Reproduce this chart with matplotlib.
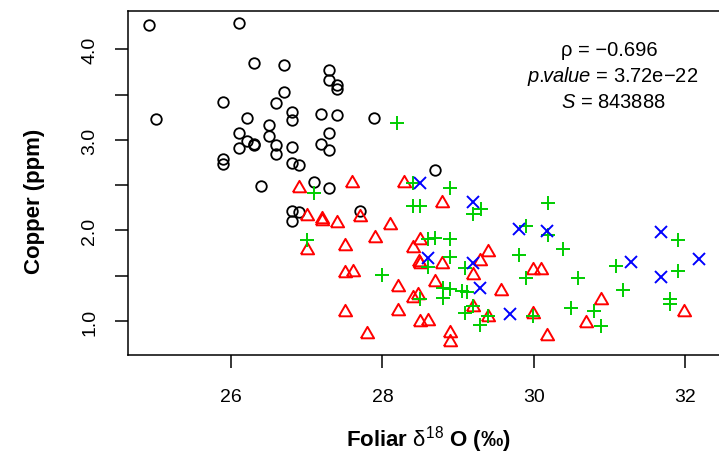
import numpy as np
import matplotlib
matplotlib.use('Agg')
import matplotlib.pyplot as plt

plt.rcParams['font.family'] = ['Liberation Sans', 'DejaVu Sans']
plt.rcParams['mathtext.fontset'] = 'custom'
plt.rcParams['mathtext.rm'] = 'Liberation Sans'
plt.rcParams['mathtext.it'] = 'Liberation Sans:italic'
plt.rcParams['mathtext.bf'] = 'Liberation Sans:bold'

# groupe 1 : cercles noirs
circ_x = [24.91, 26.11, 26.30, 26.70, 26.70, 25.90, 26.60, 25.01, 26.21, 26.80,
          26.80, 27.19, 26.50, 26.11, 26.50, 26.21, 26.30, 26.31, 26.11, 26.60,
          26.60, 26.80, 27.19, 25.90, 25.90, 26.80, 26.90, 27.10, 26.40, 27.30,
          27.30, 27.40, 27.40, 27.40, 27.30, 27.30, 27.89, 27.30, 26.80, 26.90,
          26.80, 27.70, 28.69]
circ_y = [4.27, 4.29, 3.85, 3.83, 3.53, 3.42, 3.41, 3.23, 3.24, 3.31,
          3.22, 3.29, 3.17, 3.08, 3.04, 2.99, 2.95, 2.94, 2.91, 2.94,
          2.85, 2.92, 2.96, 2.79, 2.73, 2.74, 2.72, 2.54, 2.49, 3.77,
          3.66, 3.61, 3.56, 3.28, 3.08, 2.89, 3.24, 2.47, 2.21, 2.20,
          2.10, 2.22, 2.67]

# groupe 2 : triangles rouges
tri_x = [26.90, 27.60, 28.29, 27.00, 27.20, 27.20, 27.40, 27.70, 28.10, 27.90,
         27.51, 27.00, 28.40, 27.51, 27.61, 28.20, 28.40, 28.47, 27.50, 28.20,
         27.80, 28.79, 28.50, 28.50, 28.79, 29.19, 29.29, 29.39, 28.69, 29.19,
         29.40, 28.50, 28.60, 28.89, 28.89, 29.57, 29.99, 30.09, 29.99, 30.18,
         30.69, 30.89, 31.98, 28.48]
tri_y = [2.47, 2.52, 2.53, 2.16, 2.13, 2.11, 2.08, 2.15, 2.06, 1.92,
         1.83, 1.78, 1.81, 1.53, 1.54, 1.38, 1.25, 1.29, 1.10, 1.11,
         0.86, 2.30, 1.89, 1.63, 1.63, 1.51, 1.66, 1.76, 1.43, 1.15,
         1.04, 0.99, 1.00, 0.87, 0.77, 1.33, 1.56, 1.56, 1.08, 0.83,
         0.98, 1.23, 1.10, 1.65]

# groupe 3 : croix vertes
plus_x = [28.19, 27.10, 27.00, 28.00, 28.40, 28.89, 28.40, 28.50, 29.19, 29.30,
          28.60, 28.69, 28.89, 28.89, 28.60, 29.09, 28.80, 28.89, 28.80, 29.05,
          29.12, 28.50, 29.09, 29.19, 29.29, 29.39, 30.19, 29.90, 30.19, 30.39,
          29.80, 29.90, 30.59, 31.09, 31.18, 31.90, 31.90, 31.80, 31.80, 30.49,
          30.79, 30.89, 29.99]
plus_y = [3.19, 2.41, 1.89, 1.51, 2.52, 2.47, 2.27, 2.27, 2.18, 2.24,
          1.91, 1.92, 1.91, 1.71, 1.60, 1.58, 1.36, 1.35, 1.25, 1.33,
          1.32, 1.24, 1.09, 1.17, 0.96, 1.06, 2.30, 2.05, 1.95, 1.80,
          1.73, 1.48, 1.47, 1.61, 1.34, 1.90, 1.55, 1.24, 1.19, 1.14,
          1.11, 0.94, 1.05]

# groupe 4 : x bleus
cross_x = [28.50, 29.19, 28.60, 29.19, 29.29, 29.69, 29.80, 30.18, 31.28, 31.68,
           31.68, 32.18]
cross_y = [2.53, 2.31, 1.70, 1.64, 1.36, 1.08, 2.02, 1.99, 1.65, 1.98,
           1.49, 1.68]

xticks = [26, 28, 30, 32]
yticks = [1.0, 1.5, 2.0, 2.5, 3.0, 3.5, 4.0]
ylabels = ['1.0', '', '2.0', '', '3.0', '', '4.0']

tri = [(-1, -0.577), (1, -0.577), (0, 1.155), (-1, -0.577)]

fig = plt.figure(figsize=(7.19, 4.56), dpi=100)
ax = fig.add_axes([128/719, 100/456, 594/719, 344/456])

ax.plot(circ_x, circ_y, ls='none', marker='o', ms=7.6, mfc='none', mec='black', mew=1.3)
ax.plot(tri_x, tri_y, ls='none', marker=tri, ms=11, mfc='none', mec='red', mew=1.4)
ax.plot(plus_x, plus_y, ls='none', marker='+', ms=10, mec='#00CD00', mew=1.4)
ax.plot(cross_x, cross_y, ls='none', marker='x', ms=8, mec='blue', mew=1.4)

ax.set_xlim(24.639, 32.486)
ax.set_ylim(0.624, 4.425)
ax.set_xticks(xticks)
ax.set_xticklabels([str(t) for t in xticks])
ax.set_yticks(yticks)
ax.set_yticklabels(ylabels, rotation=90, va='center')
ax.spines['right'].set_visible(False)
for s in ['left', 'top', 'bottom']:
    ax.spines[s].set_linewidth(1.1)
ax.tick_params(direction='out', length=9.5, width=1.1, labelsize=14)
ax.tick_params(axis='x', pad=14)
ax.tick_params(axis='y', pad=12)

fig.text(35/719, 1 - 201/456, 'Copper (ppm)', rotation=90, ha='center', va='center',
         fontsize=16, fontweight='bold')
fig.text(428/719, 1 - 440/456, r'Foliar $\mathrm{\delta}^{18}$ O (‰)', ha='center', va='center',
         fontsize=16, fontweight='bold')

fig.text(609/719, 1 - 50/456, 'ρ = −0.696', ha='center', va='center', fontsize=14.5)
fig.text(613/719, 1 - 76/456, r'$\mathit{p.\!\!value}$ = 3.72e−22', ha='center', va='center', fontsize=14.5)
fig.text(613/719, 1 - 103/456, r'$\mathit{S}$ = 843888', ha='center', va='center', fontsize=14.5)

plt.savefig('out.png', dpi=100)
